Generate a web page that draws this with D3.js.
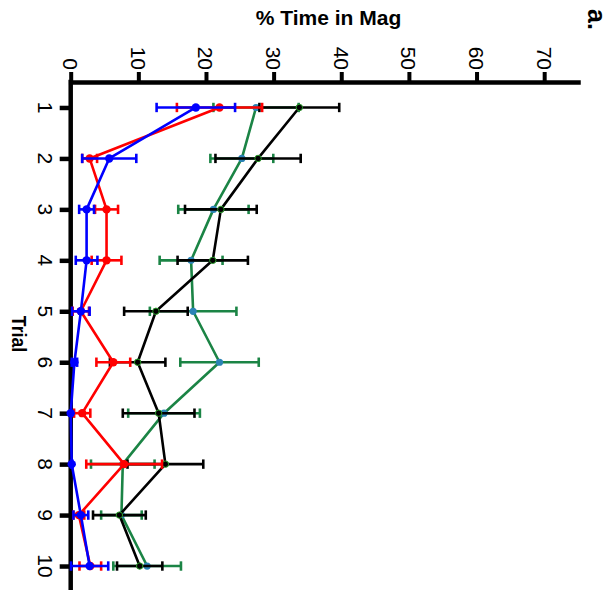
<!DOCTYPE html>
<html>
<head>
<meta charset="utf-8">
<script src="https://cdn.jsdelivr.net/npm/d3@7"></script>
<style>
  body { margin: 0; background: #fff; }
  text { font-family: "Liberation Sans", Arial, Helvetica, sans-serif; fill: #000; }
</style>
</head>
<body>
<svg id="chart" width="616" height="597"></svg>
<script>
// Trials (rows) and group means ± SEM of % time in magazine
const trials = [1, 2, 3, 4, 5, 6, 7, 8, 9, 10];

const blackMean = [33.8, 27.7, 22.2, 21.0, 12.6, 9.9, 13.0, 14.0, 7.2, 10.2];
const blackSem  = [5.9, 6.3, 5.3, 5.2, 4.7, 4.1, 5.3, 5.6, 3.9, 3.35];

const greenMean = [27.4, 25.3, 21.1, 17.8, 18.1, 22.0, 13.8, 7.7, 7.5, 11.3];
const greenSem  = [6.3, 4.65, 5.2, 4.65, 6.4, 5.8, 5.3, 4.7, 3.0, 5.0];

const redMean = [22.0, 2.8, 5.3, 5.3, 1.5, 6.3, 1.7, 7.9, 1.2, 2.9];
const redSem  = [6.3, 1.1, 1.7, 2.2, 1.2, 2.5, 1.2, 5.6, 0.8, 1.6];

const blueMean = [18.5, 5.7, 2.35, 2.35, 1.5, 0.55, 0.0, 0.15, 1.5, 2.8];
const blueSem  = [5.8, 4.0, 1.1, 1.6, 1.3, 0.4, 0.0, 0.1, 1.1, 2.75];

const valueTicks = [0, 10, 20, 30, 40, 50, 60, 70];

const series = [
  { mean: greenMean, sem: greenSem, line: "#1b8445", dot: "#2b83b5", dotStroke: "none", r: 3.6 },
  { mean: blackMean, sem: blackSem, line: "#000000", dot: "#000000", dotStroke: "#2ca02c", r: 3.2 },
  { mean: redMean,   sem: redSem,   line: "#ff0000", dot: "#ff0000", dotStroke: "none", r: 4.2 },
  { mean: blueMean,  sem: blueSem,  line: "#0000ff", dot: "#0000ff", dotStroke: "none", r: 4.2 }
];

const svg = d3.select("#chart");

// Value axis runs left→right along the top, trials run top→bottom
const x = d3.scaleLinear().domain([0, 75]).range([70.7, 578]);
const y = d3.scaleLinear().domain([0.5, 10.5]).range([82, 591.5]);

// Top axis
const gx = svg.append("g").attr("transform", "translate(0,82)")
  .call(d3.axisTop(x).tickValues(valueTicks).tickSize(10).tickSizeOuter(0));
gx.select(".domain").attr("stroke", "#000").attr("stroke-width", 4.5).attr("stroke-linecap", "square");
gx.selectAll(".tick line").attr("stroke", "#000").attr("stroke-width", 4);
gx.selectAll(".tick text").remove();

// Left axis
const gy = svg.append("g").attr("transform", "translate(70.7,0)")
  .call(d3.axisLeft(y).tickValues(trials).tickSize(11).tickSizeOuter(0));
gy.select(".domain").attr("stroke", "#000").attr("stroke-width", 4.5)
  .attr("d", `M0,${y.range()[0] - 2.25}V590`);
gy.selectAll(".tick line").attr("stroke", "#000").attr("stroke-width", 4.5);
gy.selectAll(".tick text").remove();

// Rotated tick labels
svg.append("g").selectAll("text").data(valueTicks).join("text")
  .attr("transform", d => `translate(${x(d) - 7.6},70) rotate(90)`)
  .attr("text-anchor", "end")
  .style("font-size", "21px")
  .text(d => d);

svg.append("g").selectAll("text").data(trials).join("text")
  .attr("transform", d => `translate(38,${y(d)}) rotate(90)`)
  .attr("text-anchor", "middle")
  .style("font-size", "21px")
  .text(d => d);

// Titles
svg.append("text")
  .attr("x", 328.5).attr("y", 25)
  .attr("text-anchor", "middle")
  .style("font-size", "21px").style("font-weight", "bold")
  .text("% Time in Mag");

svg.append("text")
  .attr("transform", "translate(11.7,334) rotate(90) scale(0.86,1)")
  .attr("text-anchor", "middle")
  .style("font-size", "20.5px").style("font-weight", "bold")
  .text("Trial");

svg.append("text")
  .attr("transform", "translate(588,9) rotate(90)")
  .attr("text-anchor", "start")
  .style("font-size", "25px").style("font-weight", "bold")
  .text("a.");

// Series: line, error bars, markers
const lineGen = d3.line().x(d => x(d.m)).y(d => y(d.t));
const capHalf = 4.7;

series.forEach(s => {
  const pts = trials.map((t, i) => ({ t, m: s.mean[i], e: s.sem[i] }));
  const g = svg.append("g");

  g.append("path").datum(pts)
    .attr("d", lineGen)
    .attr("fill", "none")
    .attr("stroke", s.line)
    .attr("stroke-width", 2.6)
    .attr("stroke-linejoin", "round");

  const eb = g.append("g").selectAll("g").data(pts.filter(p => p.e > 0)).join("g")
    .attr("stroke", s.line).attr("stroke-width", 2.6);
  eb.append("line")
    .attr("x1", d => x(d.m - d.e)).attr("x2", d => x(d.m + d.e))
    .attr("y1", d => y(d.t)).attr("y2", d => y(d.t));
  eb.append("line")
    .attr("x1", d => x(d.m - d.e)).attr("x2", d => x(d.m - d.e))
    .attr("y1", d => y(d.t) - capHalf).attr("y2", d => y(d.t) + capHalf);
  eb.append("line")
    .attr("x1", d => x(d.m + d.e)).attr("x2", d => x(d.m + d.e))
    .attr("y1", d => y(d.t) - capHalf).attr("y2", d => y(d.t) + capHalf);

  g.append("g").selectAll("circle").data(pts).join("circle")
    .attr("cx", d => x(d.m)).attr("cy", d => y(d.t))
    .attr("r", s.r)
    .attr("fill", s.dot)
    .attr("stroke", s.dotStroke)
    .attr("stroke-width", 1);
});
</script>
</body>
</html>
